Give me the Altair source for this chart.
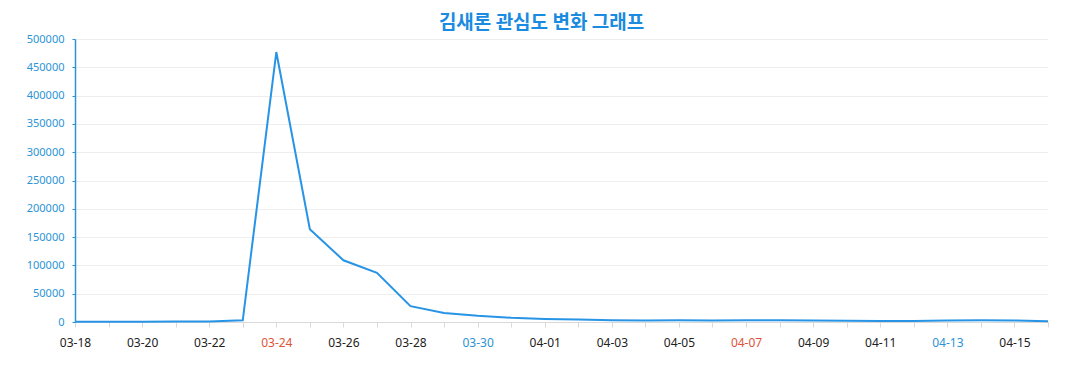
import altair as alt
import pandas as pd

dates = ["03-18", "03-19", "03-20", "03-21", "03-22", "03-23", "03-24", "03-25",
         "03-26", "03-27", "03-28", "03-29", "03-30", "03-31", "04-01", "04-02",
         "04-03", "04-04", "04-05", "04-06", "04-07", "04-08", "04-09", "04-10",
         "04-11", "04-12", "04-13", "04-14", "04-15", "04-16"]
values = [500, 500, 500, 800, 1000, 3000, 477000, 164000,
          109000, 87000, 28000, 16000, 11000, 7500, 5500, 4500,
          3200, 2600, 3000, 2800, 3000, 3000, 2500, 2000,
          1600, 1600, 2500, 3200, 2600, 1200]
shown_labels = dates[::2]
red_labels = ["03-24", "04-07"]
blue_labels = ["03-30", "04-13"]
y_ticks = [0, 50000, 100000, 150000, 200000, 250000, 300000, 350000, 400000, 450000, 500000]

df = pd.DataFrame({"date": dates, "value": values})

def js_list(lst):
    return "[" + ",".join("'" + s + "'" for s in lst) + "]"

label_expr = "indexof(" + js_list(shown_labels) + ", datum.value) >= 0 ? datum.value : ''"
color_expr = ("indexof(" + js_list(red_labels) + ", datum.value) >= 0 ? '#e0533a' : "
              "(indexof(" + js_list(blue_labels) + ", datum.value) >= 0 ? '#2b93d6' : '#222222')")

chart = alt.Chart(df).mark_line(color="#2894e6", strokeWidth=2).encode(
    x=alt.X("date:O", sort=dates,
            scale=alt.Scale(type="point", padding=0),
            axis=alt.Axis(title=None, labelAngle=0, labelExpr=label_expr,
                          labelColor={"expr": color_expr}, labelOverlap=False,
                          labelFont="Noto Sans", labelFontSize=12, labelPadding=10,
                          domainColor="#d9d9d9", tickColor="#d9d9d9", tickSize=5,
                          grid=False)),
    y=alt.Y("value:Q", scale=alt.Scale(domain=[0, 500000], nice=False),
            axis=alt.Axis(title=None, values=y_ticks, format="d",
                          labelFont="Noto Sans", labelFontSize=11, labelColor="#2b93d6",
                          domainColor="#2b93d6", domainWidth=1.5, tickColor="#2b93d6",
                          tickSize=3, labelPadding=8,
                          gridColor="#eeeeee")),
).properties(
    width=973, height=283,
    title=alt.TitleParams("김새론 관심도 변화 그래프", font="Noto Sans CJK KR",
                          fontSize=19, fontWeight="bold", color="#1a8be0",
                          anchor="middle", offset=0, dx=-20),
    padding={"left": 18, "top": 6, "right": 5, "bottom": 5},
).configure_view(stroke=None)

chart.save("out.html", embed_options={"renderer": "svg", "actions": False})
